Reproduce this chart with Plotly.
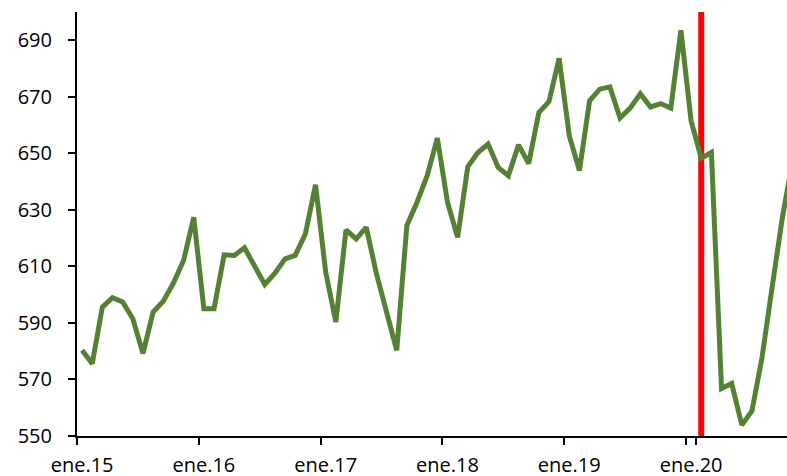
import plotly.graph_objects as go

month_names = ["ene", "feb", "mar", "abr", "may", "jun", "jul", "ago", "sep", "oct", "nov", "dic"]
years = ["15", "16", "17", "18", "19", "20"]

values_2015 = [580.3, 575.6, 595.6, 598.9, 597.4, 591.5, 579.2, 593.9, 597.7, 604.1, 612.1, 627.4]
values_2016 = [595.0, 595.0, 614.1, 613.9, 616.6, 610.0, 603.6, 607.6, 612.7, 613.9, 621.5, 638.9]
values_2017 = [608.0, 590.3, 622.9, 619.7, 623.8, 607.4, 593.3, 580.3, 624.5, 632.7, 642.1, 655.4]
values_2018 = [632.7, 620.3, 645.3, 650.3, 653.3, 645.0, 642.1, 653.0, 646.4, 664.4, 668.3, 683.6]
values_2019 = [656.2, 643.9, 668.6, 672.7, 673.5, 662.5, 666.0, 671.1, 666.4, 667.6, 666.0, 693.5]
values_2020 = [661.5, 648.3, 650.3, 566.8, 568.6, 553.9, 558.9, 578.0, 603.0, 627.4, 647.4]

values = values_2015 + values_2016 + values_2017 + values_2018 + values_2019 + values_2020
categories = [f"{m}.{y}" for y in years for m in month_names][:len(values)]

tick_labels = ["ene.15", "ene.16", "ene.17", "ene.18", "ene.19", "ene.20"]
y_ticks = [550, 570, 590, 610, 630, 650, 670, 690]

marker_month = "feb.20"
y_min, y_max = 550, 700

font = dict(family="Open Sans", size=20, color="#000000")

fig = go.Figure()
fig.add_trace(go.Scatter(
    x=[marker_month, marker_month], y=[y_min, y_max],
    mode="lines", line=dict(color="#FF0000", width=6),
    hoverinfo="skip", showlegend=False,
))
fig.add_trace(go.Scatter(
    x=categories, y=values, mode="lines",
    line=dict(color="#548235", width=5),
    showlegend=False,
))

fig.update_layout(
    width=787, height=476,
    margin=dict(l=77, r=0, t=12, b=40, autoexpand=False),
    paper_bgcolor="white", plot_bgcolor="white",
    font=font,
)
fig.update_xaxes(
    type="category",
    categoryorder="array", categoryarray=categories,
    range=[-0.5, 69.45],
    tickmode="array", tickvals=tick_labels, ticktext=tick_labels,
    tickson="boundaries", tickangle=0,
    ticks="outside", ticklen=7, tickwidth=2, tickcolor="#000000",
    showline=True, linecolor="#000000", linewidth=2,
    showgrid=False, zeroline=False,
    ticklabelstandoff=10,
    tickfont=font,
)
fig.update_yaxes(
    range=[y_min, y_max],
    tickmode="array", tickvals=y_ticks,
    ticks="outside", ticklen=7, tickwidth=2, tickcolor="#000000",
    showline=True, linecolor="#000000", linewidth=2,
    showgrid=False, zeroline=False,
    ticklabelstandoff=12,
    tickfont=font,
)

fig.write_html("out.html", config={"displayModeBar": False},
               post_script="document.body.style.margin='0';")
